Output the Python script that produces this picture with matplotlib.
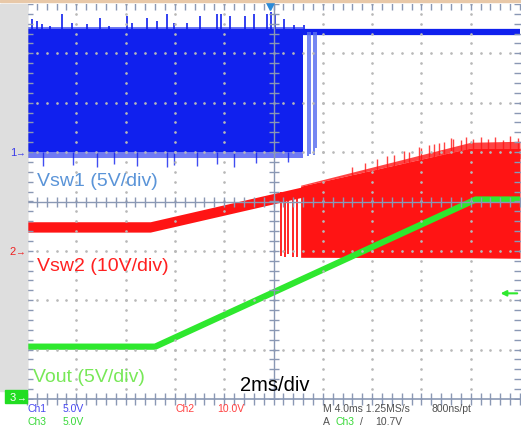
import numpy as np
import matplotlib.pyplot as plt
from matplotlib.patches import Rectangle

plt.rcParams['font.family'] = ['Liberation Sans', 'DejaVu Sans']

# scope settings
t_div = 2.0                      # ms/div, 10 divisions
ch1_scale, ch1_pos = 5.0, 1.0    # V/div, ground position (div from centre)
ch2_scale, ch2_pos = 10.0, -1.0
ch3_scale, ch3_pos = 5.0, -4.0
trig_level = 10.7                # V on Ch3
trig_time = 9.85                 # ms

# Vsw1 (blue): switching block, then flat high level
sw1_t = [0.0, 11.2]
sw1_high = [12.2, 12.2]
sw1_low = [0.0, 0.0]
sw1_line_t = [0.0, 20.0]
sw1_line_v = [12.2, 12.2]
sw1_spike_t = [0.19, 0.39, 0.60, 0.93, 1.41, 1.82, 2.43, 2.97, 3.31, 4.05, 4.26,
               4.87, 5.27, 5.68, 5.95, 6.49, 7.03, 7.71, 7.85, 8.25, 8.86, 9.20,
               9.74, 9.88, 10.08, 10.42, 10.83, 11.23]
sw1_spike_v = [13.5, 13.3, 13.0, 12.8, 14.0, 13.1, 13.0, 13.6, 12.8, 13.8, 13.1,
               13.6, 13.3, 14.0, 13.1, 13.1, 13.8, 14.0, 14.0, 13.8, 13.8, 14.0,
               14.0, 14.2, 14.0, 13.5, 12.9, 12.9]
sw1_dip_t = [0.66, 1.88, 2.83, 3.51, 4.46, 5.68, 5.95, 6.90, 7.71, 8.39, 9.30, 10.6]
sw1_dip_v = [-1.4, -1.3, -1.5, -1.2, -1.4, -1.5, -1.3, -1.4, -1.2, -1.5, -1.1, -1.0]
sw1_tail_t = [11.38, 11.50, 11.63, 11.71]
sw1_tail_v = [-0.4, -0.2, -0.3, 0.4]

# Vsw2 (red): ramping band, switching after ~10.3 ms
sw2_t = [0.0, 5.0, 18.0, 20.0]
sw2_high = [5.9, 5.9, 20.8, 20.8]
sw2_band = 2.1
sw2_sw_t = [11.1, 18.0, 20.0]
sw2_sw_high = [13.1, 20.8, 20.8]
sw2_sw_low = [-1.3, -1.4, -1.5]
sw2_fuzz_high = [13.3, 22.0, 22.2]
sw2_tail_t = [10.30, 10.45, 10.60, 10.78, 10.95]
sw2_tail_v = [-1.0, -1.2, -0.6, -1.3, -1.2]
sw2_spike_t = [13.2, 13.7, 14.2, 14.6, 14.9, 15.3, 15.5, 15.9, 16.0, 16.3, 16.5,
               16.7, 16.9, 17.2, 17.3, 17.6, 17.8, 18.1, 18.4, 18.7, 19.0, 19.3, 19.6, 19.9]
sw2_spike_v = [17.0, 17.8, 18.6, 19.3, 19.4, 20.3, 20.1, 21.0, 20.8, 21.5, 21.6,
               21.9, 22.1, 22.8, 22.6, 22.5, 23.0, 22.7, 23.1, 22.6, 23.0, 22.5, 23.2, 22.8]

# Vout (green)
vout_t = [0.0, 5.2, 18.2, 20.0]
vout_v = [5.3, 5.3, 20.2, 20.2]


def div(v, scale, pos):
    return np.asarray(v) / scale + pos


W, H = 521, 431
fig = plt.figure(figsize=(W / 100, H / 100), dpi=100)
fig.patch.set_facecolor('white')


def fx(x):
    return x / W


def fy(y):
    return 1 - y / H


# left gray strip and top border
fig.patches.append(Rectangle((0, fy(392)), fx(27), fy(5) - fy(392),
                             transform=fig.transFigure, color='#dedede', zorder=0))
fig.patches.append(Rectangle((0, fy(3)), 1, fy(1) - fy(3),
                             transform=fig.transFigure, color='#e8c8a8', zorder=0))

ax = fig.add_axes([fx(27), fy(400), fx(520) - fx(27), fy(5) - fy(400)])
ax.set_xlim(0, 10 * t_div)
ax.set_ylim(-4, 4)
ax.axis('off')

blue = '#1020ee'
red = '#ff1414'
green = '#2ee82e'

# Vsw1
ax.fill_between(sw1_t, div(sw1_low, ch1_scale, ch1_pos), div(sw1_high, ch1_scale, ch1_pos),
                color=blue, lw=0, zorder=2)
ax.fill_between(sw1_t, div([-0.6, -0.6], ch1_scale, ch1_pos), div(sw1_low, ch1_scale, ch1_pos),
                color=blue, alpha=0.6, lw=0, zorder=2)
ax.fill_between(sw1_t, div(sw1_high, ch1_scale, ch1_pos), div([12.7, 12.7], ch1_scale, ch1_pos),
                color=blue, alpha=0.6, lw=0, zorder=2)
ax.plot(sw1_line_t, div(sw1_line_v, ch1_scale, ch1_pos), color=blue, lw=4.5, zorder=2)
ax.vlines(sw1_spike_t, div(12.2, ch1_scale, ch1_pos), div(sw1_spike_v, ch1_scale, ch1_pos),
          color=blue, lw=1.2, zorder=2)
ax.vlines(sw1_dip_t, div(sw1_dip_v, ch1_scale, ch1_pos), div(0, ch1_scale, ch1_pos),
          color=blue, lw=1.0, alpha=0.8, zorder=2)
ax.vlines(sw1_tail_t, div(sw1_tail_v, ch1_scale, ch1_pos), div(12.2, ch1_scale, ch1_pos),
          color='#5a70f0', lw=1.2, zorder=2)

# Vsw2
high2 = np.array(sw2_high)
ax.fill_between(sw2_t, div(high2 - sw2_band, ch2_scale, ch2_pos), div(high2, ch2_scale, ch2_pos),
                color=red, lw=0, zorder=3)
ax.fill_between(sw2_sw_t, div(sw2_sw_low, ch2_scale, ch2_pos), div(sw2_sw_high, ch2_scale, ch2_pos),
                color=red, lw=0, zorder=3)
ax.fill_between(sw2_sw_t, div(sw2_sw_high, ch2_scale, ch2_pos), div(sw2_fuzz_high, ch2_scale, ch2_pos),
                color=red, alpha=0.8, lw=0, zorder=3)
ax.vlines(sw2_tail_t, div(sw2_tail_v, ch2_scale, ch2_pos), div(12.0, ch2_scale, ch2_pos),
          color=red, lw=1.3, zorder=3)
ax.vlines(sw2_spike_t, div(np.array(sw2_spike_v) - 2.5, ch2_scale, ch2_pos),
          div(sw2_spike_v, ch2_scale, ch2_pos), color=red, lw=1.0, alpha=0.8, zorder=3)

# Vout
ax.plot(vout_t, div(vout_v, ch3_scale, ch3_pos), color=green, lw=4.5, zorder=4,
        solid_joinstyle='round')

# graticule
gc = '#8a98b4'
dc = '#b8b8b8'
minor_x = np.arange(0, 20.01, t_div / 5)
minor_y = np.arange(-4, 4.01, 0.2)
for t in np.arange(t_div, 20, t_div):
    if abs(t - 10) > 0.01:
        ax.plot(np.full_like(minor_y, t), minor_y, ls='none', marker='.', ms=1.8,
                color=dc, zorder=5)
for y in range(-3, 4):
    if y != 0:
        ax.plot(minor_x, np.full_like(minor_x, y), ls='none', marker='.', ms=1.8,
                color=dc, zorder=5)
ax.axhline(0, color=gc, lw=1, zorder=6)
ax.axvline(10, color=gc, lw=1, zorder=6)
ax.plot(minor_x, np.zeros_like(minor_x), ls='none', marker='|', ms=7, mew=1, color=gc, zorder=6)
ax.plot(np.full_like(minor_y, 10), minor_y, ls='none', marker='_', ms=7, mew=1, color=gc, zorder=6)
ax.plot(minor_x, np.full_like(minor_x, 4), ls='none', marker='|', ms=8, mew=1, color=gc, zorder=6)
ax.plot(np.zeros_like(minor_y), minor_y, ls='none', marker='_', ms=9, mew=1, color=gc, zorder=6)
ax.plot(np.full_like(minor_y, 20), minor_y, ls='none', marker='_', ms=9, mew=1, color=gc, zorder=6)
ax.axhline(-4, color=gc, lw=1.2, zorder=6, clip_on=False)
ax.plot(minor_x, np.full_like(minor_x, -4), ls='none', marker='|', ms=8, mew=1, color=gc,
        zorder=6, clip_on=False)
ax.axvline(0, color='#b0b0b0', lw=1, zorder=6)

# trigger markers
ax.plot([trig_time], [3.97], marker='v', ms=7, color='#2a8ad8', clip_on=False, zorder=7)
ytrig = div(trig_level, ch3_scale, ch3_pos)
ax.annotate('', xy=(19.1, ytrig), xytext=(20.0, ytrig),
            arrowprops=dict(arrowstyle='-|>', color=green, lw=1.5, mutation_scale=8), zorder=7)

# channel ground markers in the gray strip
fig.text(fx(13), fy(153), '1', color='#3a3ae8', fontsize=8, ha='center', va='center')
fig.text(fx(20), fy(153), '\u2192', color='#3a3ae8', fontsize=7, ha='center', va='center')
fig.text(fx(13), fy(252), '2', color='#ee2020', fontsize=8, ha='center', va='center')
fig.text(fx(20), fy(252), '\u2192', color='#ee2020', fontsize=7, ha='center', va='center')
fig.patches.append(Rectangle((fx(5), fy(404)), fx(22), fy(391) - fy(404),
                             transform=fig.transFigure, color='#22dd22', zorder=1))
fig.text(fx(13), fy(398), '3', color='white', fontsize=8, ha='center', va='center')
fig.text(fx(21), fy(398), '\u2192', color='white', fontsize=7, ha='center', va='center')

# trace labels
fig.text(fx(37), fy(182), 'Vsw1 (5V/div)', color='#5a94d8', fontsize=14, va='center')
fig.text(fx(37), fy(267), 'Vsw2 (10V/div)', color='#ff2020', fontsize=14, va='center')
fig.text(fx(33), fy(378), 'Vout (5V/div)', color='#78e858', fontsize=14, va='center')
fig.text(fx(240), fy(386), '2ms/div', color='black', fontsize=14.5, va='center')

# readout
fs = 7.5
fig.text(fx(27), fy(409), 'Ch1', color='#4848f0', fontsize=fs, va='center')
fig.text(fx(63), fy(409), '5.0V', color='#4848f0', fontsize=fs, va='center')
fig.text(fx(175), fy(409), 'Ch2', color='#ff4040', fontsize=fs, va='center')
fig.text(fx(217), fy(409), '10.0V', color='#ff4040', fontsize=fs, va='center')
fig.text(fx(323), fy(409), 'M 4.0ms 1.25MS/s', color='#505050', fontsize=fs, va='center')
fig.text(fx(432), fy(409), '800ns/pt', color='#505050', fontsize=fs, va='center')
fig.text(fx(27), fy(422), 'Ch3', color='#38d838', fontsize=fs, va='center')
fig.text(fx(63), fy(422), '5.0V', color='#38d838', fontsize=fs, va='center')
fig.text(fx(323), fy(422), 'A', color='#505050', fontsize=fs, va='center')
fig.text(fx(336), fy(422), 'Ch3', color='#38d838', fontsize=fs, va='center')
fig.text(fx(360), fy(422), '/', color='#505050', fontsize=fs, va='center')
fig.text(fx(375), fy(422), f'{trig_level}V', color='#505050', fontsize=fs, va='center')

fig.savefig('out.png', dpi=100)
